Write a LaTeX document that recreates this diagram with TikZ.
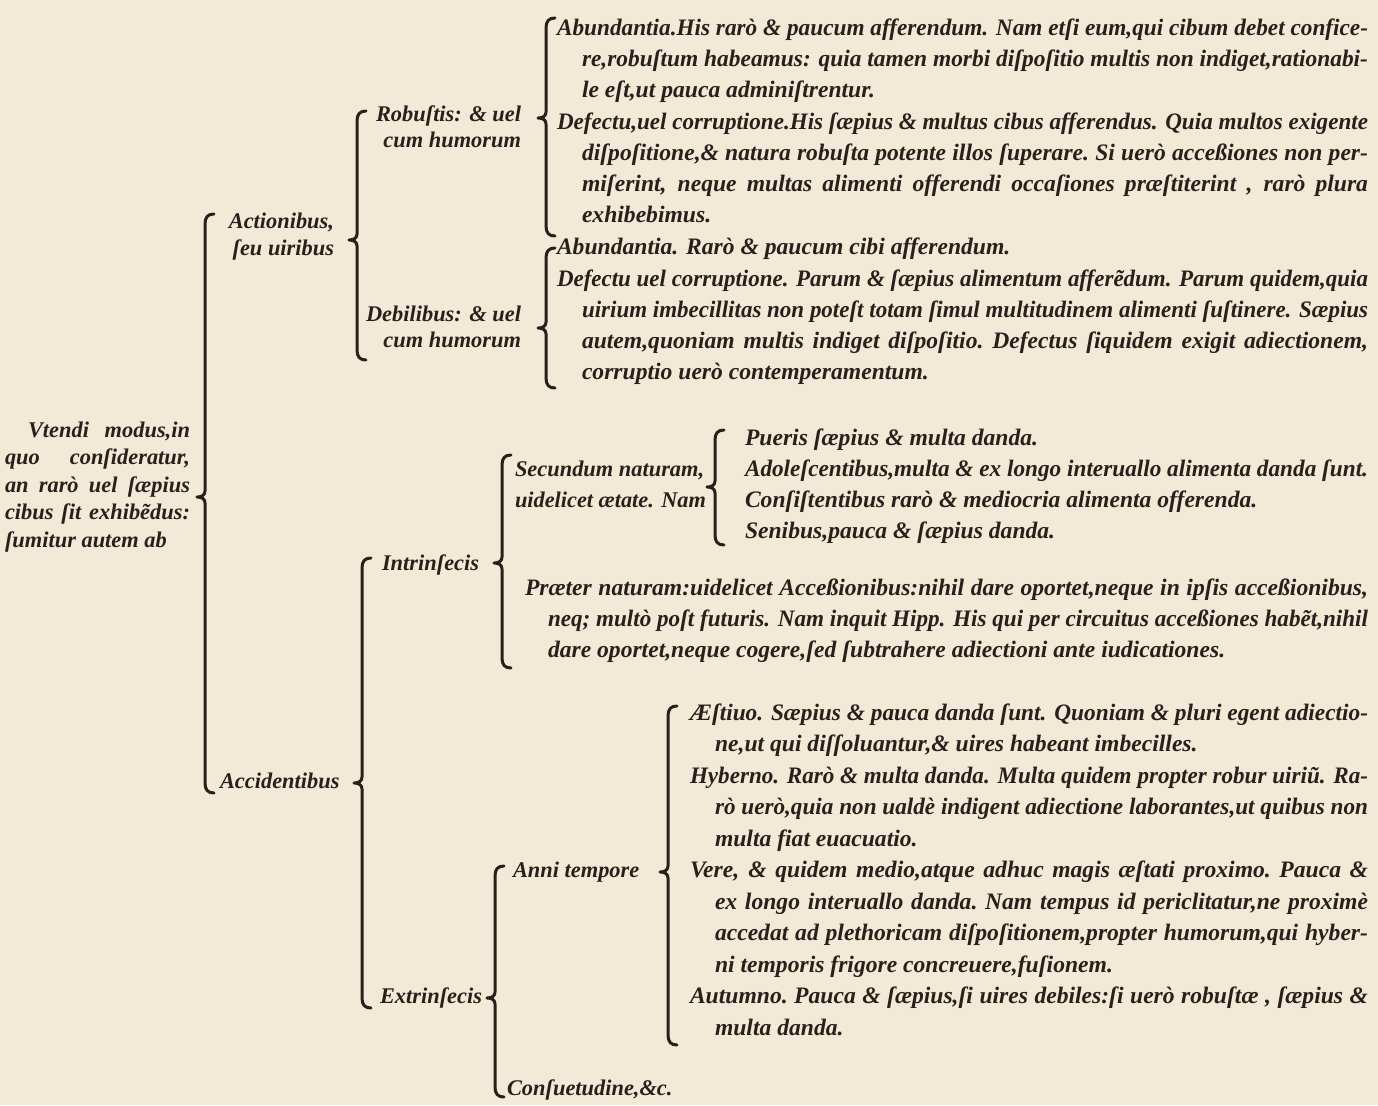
\documentclass[tikz,border=0pt]{standalone}
\usepackage{fontspec}
\usepackage{graphicx}
\setmainfont{Liberation Serif}
\definecolor{paper}{HTML}{F2EAD6}
\definecolor{ink}{HTML}{28211B}
\newlength\jw
% justified line of given width; squeezed horizontally if too long
\newcommand\jbox[2]{\setlength\jw{#1}\setbox0\hbox{#2}%
  \ifdim\wd0>\jw\resizebox{\jw}{\height}{\box0}%
  \else\hbox to\jw{\spaceskip=.25em plus 1fil\xspaceskip=\spaceskip #2}\fi}
% natural width, squeezed only if wider than the given width
\newcommand\fitbox[2]{\setlength\jw{#1}\setbox0\hbox{#2}%
  \ifdim\wd0>\jw\resizebox{\jw}{\height}{\box0}\else\box0\fi}
\tikzset{
  txt/.style={inner sep=0pt, outer sep=0pt, text=ink,
    font=\bfseries\itshape\fontsize{11.8}{14}\selectfont},
  lbl/.style={txt, font=\bfseries\itshape\fontsize{11.2}{14}\selectfont},
  brace/.style={draw=ink, line width=1.5pt, line cap=round, line join=round},
}
% name, x, y(center), text : justified to right edge 1368
\newcommand\JL[4]{\node[txt,anchor=base west] (#1) at (#2,#3+5) {\jbox{\dimexpr(1368pt-#2pt)/2\relax}{#4}};}
% name, x, y, right edge, text
\newcommand\JLw[5]{\node[lbl,anchor=base west] (#1) at (#2,#3+5) {\jbox{\dimexpr(#4pt-#2pt)/2\relax}{#5}};}
\newcommand\LL[4]{\node[txt,anchor=base west] (#1) at (#2,#3+5) {#4};}
% name, left x, y, max right x, text
\newcommand\LLf[5]{\node[lbl,anchor=base west] (#1) at (#2,#3+5) {\fitbox{\dimexpr(#4pt-#2pt)/2\relax}{#5}};}
% name, right x, y, min left x, text
\newcommand\LRf[5]{\node[lbl,anchor=base east] (#1) at (#2,#3+5) {\fitbox{\dimexpr(#2pt-#4pt)/2\relax}{#5}};}
% x, top, bottom, tip
\newcommand\Brace[4]{\draw[brace] ({#1+9},#2) .. controls ({#1+3},#2) and (#1,{#2+3}) .. (#1,{#2+10})
  -- (#1,{#4-6}) .. controls (#1,{#4-2}) and ({#1-3},#4) .. ({#1-8},#4)
  .. controls ({#1-3},#4) and (#1,{#4+2}) .. (#1,{#4+6})
  -- (#1,{#3-10}) .. controls (#1,{#3-3}) and ({#1+3},#3) .. ({#1+9},#3);}
\begin{document}
\begin{tikzpicture}[x=0.5pt,y=-0.5pt]
\fill[paper] (0,0) rectangle (1378,1105);
\useasboundingbox (0,0) rectangle (1378,1105);

% ---- right column, Robustis
\JL{a1}{557}{30}{Abundantia.His rarò \& paucum afferendum. Nam etſi eum,qui cibum debet confice-}
\JL{a2}{582}{61}{re,robuſtum habeamus: quia tamen morbi diſpoſitio multis non indiget,rationabi-}
\LL{a3}{582}{92}{le eſt,ut pauca adminiſtrentur.}
\JL{b1}{557}{124}{Defectu,uel corruptione.His ſæpius \& multus cibus afferendus. Quia multos exigente}
\JL{b2}{582}{155}{diſpoſitione,\& natura robuſta potente illos ſuperare. Si uerò acceßiones non per-}
\JL{b3}{582}{186}{miſerint, neque multas alimenti offerendi occaſiones præſtiterint , rarò plura}
\LL{b4}{582}{217}{exhibebimus.}
% ---- Debilibus
\LL{c1}{557}{249}{Abundantia. Rarò \& paucum cibi afferendum.}
\JL{d1}{557}{281}{Defectu uel corruptione. Parum \& ſæpius alimentum afferẽdum. Parum quidem,quia}
\JL{d2}{582}{312}{uirium imbecillitas non poteſt totam ſimul multitudinem alimenti ſuſtinere. Sæpius}
\JL{d3}{582}{343}{autem,quoniam multis indiget diſpoſitio. Defectus ſiquidem exigit adiectionem,}
\LL{d4}{582}{374}{corruptio uerò contemperamentum.}
% ---- ages
\LL{e1}{745}{440}{Pueris ſæpius \& multa danda.}
\JL{e2}{745}{471}{Adoleſcentibus,multa \& ex longo interuallo alimenta danda ſunt.}
\LL{e3}{745}{502}{Conſiſtentibus rarò \& mediocria alimenta offerenda.}
\LL{e4}{745}{533}{Senibus,pauca \& ſæpius danda.}
% ---- praeter naturam
\JL{f1}{525}{590}{Præter naturam:uidelicet Acceßionibus:nihil dare oportet,neque in ipſis acceßionibus,}
\JL{f2}{548}{621}{neq; multò poſt futuris. Nam inquit Hipp. His qui per circuitus acceßiones habẽt,nihil}
\LL{f3}{548}{652}{dare oportet,neque cogere,ſed ſubtrahere adiectioni ante iudicationes.}
% ---- seasons
\JL{g1}{690}{715}{Æſtiuo. Sæpius \& pauca danda ſunt. Quoniam \& pluri egent adiectio-}
\LL{g2}{715}{746}{ne,ut qui diſſoluantur,\& uires habeant imbecilles.}
\JL{g3}{690}{778}{Hyberno. Rarò \& multa danda. Multa quidem propter robur uiriũ. Ra-}
\JL{g4}{715}{809}{rò uerò,quia non ualdè indigent adiectione laborantes,ut quibus non}
\LL{g5}{715}{841}{multa fiat euacuatio.}
\JL{g6}{690}{872}{Vere, \& quidem medio,atque adhuc magis æſtati proximo. Pauca \&}
\JL{g7}{715}{904}{ex longo interuallo danda. Nam tempus id periclitatur,ne proximè}
\JL{g8}{715}{935}{accedat ad plethoricam diſpoſitionem,propter humorum,qui hyber-}
\LL{g9}{715}{967}{ni temporis frigore concreuere,fuſionem.}
\JL{g10}{690}{998}{Autumno. Pauca \& ſæpius,ſi uires debiles:ſi uerò robuſtæ , ſæpius \&}
\LL{g11}{715}{1030}{multa danda.}

% ---- labels
\JLw{v1}{28}{432}{190}{Vtendi modus,in}
\JLw{v2}{5}{459}{190}{quo conſideratur,}
\JLw{v3}{5}{487}{190}{an rarò uel ſæpius}
\JLw{v4}{5}{514}{190}{cibus ſit exhibẽdus:}
\LLf{v5}{5}{542}{180}{ſumitur autem ab}
\LRf{h1}{334}{223}{212}{Actionibus,}
\LRf{h2}{334}{250}{215}{ſeu uiribus}
\LRf{r1}{521}{116}{365}{Robuſtis: \& uel}
\LRf{r2}{521}{142}{365}{cum humorum}
\LRf{r3}{521}{316}{365}{Debilibus: \& uel}
\LRf{r4}{521}{342}{365}{cum humorum}
\LLf{s1}{515}{471}{706}{Secundum naturam,}
\LLf{s2}{515}{502}{706}{uidelicet ætate. Nam}
\LLf{i1}{382}{565}{490}{Intrinſecis}
\LLf{k1}{220}{783}{350}{Accidentibus}
\LLf{t1}{513}{872}{656}{Anni tempore}
\LLf{x1}{380}{998}{483}{Extrinſecis}
\LLf{q1}{507}{1090}{700}{Conſuetudine,\&c.}

% ---- braces
\Brace{205}{214}{793}{497}
\Brace{357}{111}{360}{240}
\Brace{546}{18}{236}{118}
\Brace{546}{248}{388}{328}
\Brace{362}{558}{1008}{783}
\Brace{502}{455}{668}{563}
\Brace{715}{430}{545}{487}
\Brace{495}{866}{1097}{998}
\Brace{668}{706}{1045}{872}
\end{tikzpicture}
\end{document}
